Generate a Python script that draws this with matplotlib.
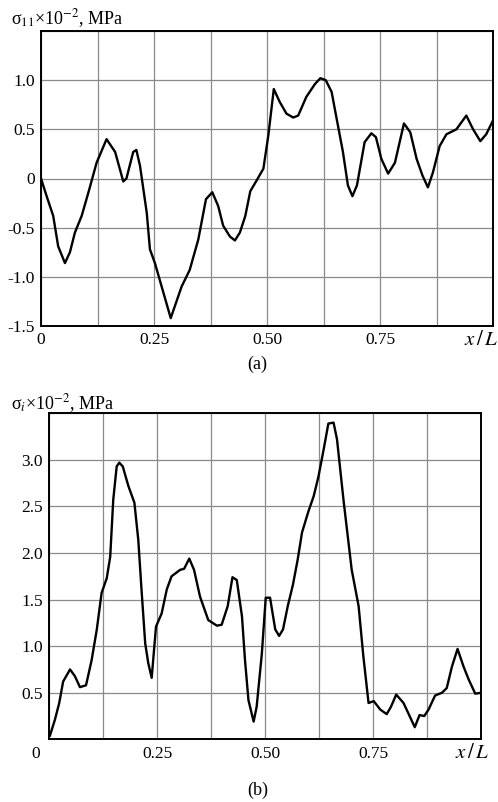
import numpy as np
import matplotlib
matplotlib.use('Agg')
import matplotlib.pyplot as plt

plt.rcParams['font.family'] = ['Liberation Serif', 'DejaVu Serif']
plt.rcParams['mathtext.fontset'] = 'stix'

# panel (a): sigma_11
x_a = [0.0, 0.0125, 0.027, 0.038, 0.053, 0.064, 0.075, 0.09, 0.105, 0.123, 0.145, 0.164,
       0.182, 0.189, 0.204, 0.211, 0.219, 0.234, 0.241, 0.252, 0.267, 0.287, 0.296, 0.311,
       0.329, 0.348, 0.365, 0.379, 0.392, 0.403, 0.418, 0.429, 0.440, 0.452, 0.463, 0.477,
       0.492, 0.503, 0.515, 0.528, 0.543, 0.558, 0.569, 0.587, 0.606, 0.618, 0.630, 0.643,
       0.654, 0.668, 0.679, 0.689, 0.699, 0.716, 0.731, 0.741, 0.753, 0.768, 0.783, 0.803,
       0.817, 0.831, 0.844, 0.856, 0.867, 0.882, 0.897, 0.919, 0.941, 0.956, 0.972, 0.985, 1.0]
y_a = [0.0, -0.18, -0.38, -0.69, -0.86, -0.75, -0.55, -0.38, -0.14, 0.16, 0.40, 0.27,
       -0.03, 0.0, 0.27, 0.29, 0.13, -0.35, -0.72, -0.86, -1.10, -1.42, -1.30, -1.10,
       -0.93, -0.62, -0.21, -0.14, -0.28, -0.48, -0.59, -0.63, -0.55, -0.38, -0.13, -0.02,
       0.10, 0.44, 0.91, 0.78, 0.66, 0.62, 0.64, 0.83, 0.96, 1.02, 1.00, 0.88,
       0.61, 0.27, -0.07, -0.18, -0.07, 0.37, 0.46, 0.42, 0.20, 0.05, 0.16, 0.56,
       0.47, 0.20, 0.03, -0.09, 0.06, 0.33, 0.45, 0.50, 0.64, 0.50, 0.38, 0.45, 0.59]

# panel (b): sigma_i
x_b = [0.0015, 0.013, 0.023, 0.032, 0.048, 0.059, 0.071, 0.085, 0.098, 0.110, 0.121, 0.133,
       0.141, 0.148, 0.156, 0.162, 0.170, 0.183, 0.197, 0.206, 0.214, 0.222, 0.229, 0.237,
       0.247, 0.260, 0.272, 0.283, 0.303, 0.312, 0.324, 0.335, 0.349, 0.368, 0.388, 0.399,
       0.413, 0.424, 0.434, 0.446, 0.453, 0.461, 0.473, 0.480, 0.492, 0.501, 0.511, 0.523,
       0.532, 0.541, 0.552, 0.564, 0.575, 0.585, 0.600, 0.612, 0.623, 0.635, 0.646, 0.658,
       0.666, 0.681, 0.700, 0.716, 0.727, 0.739, 0.751, 0.766, 0.781, 0.791, 0.803, 0.820,
       0.833, 0.846, 0.857, 0.868, 0.878, 0.893, 0.909, 0.920, 0.932, 0.945, 0.959, 0.971,
       0.986, 1.0]
y_b = [0.04, 0.21, 0.39, 0.62, 0.75, 0.68, 0.56, 0.58, 0.85, 1.18, 1.57, 1.73,
       1.96, 2.57, 2.93, 2.97, 2.93, 2.72, 2.54, 2.14, 1.57, 1.03, 0.82, 0.66,
       1.21, 1.35, 1.61, 1.75, 1.82, 1.83, 1.94, 1.82, 1.53, 1.28, 1.22, 1.23,
       1.43, 1.74, 1.71, 1.32, 0.85, 0.42, 0.19, 0.35, 0.92, 1.52, 1.52, 1.18,
       1.11, 1.18, 1.43, 1.66, 1.93, 2.22, 2.45, 2.61, 2.82, 3.11, 3.39, 3.40,
       3.22, 2.57, 1.82, 1.43, 0.89, 0.39, 0.41, 0.32, 0.27, 0.35, 0.48, 0.39,
       0.26, 0.13, 0.26, 0.25, 0.32, 0.47, 0.50, 0.55, 0.78, 0.97, 0.78, 0.64,
       0.49, 0.50]

xgrid = np.arange(0, 1.001, 0.125)
xlabels = ['0', '', '0.25', '', '0.50', '', '0.75', '', '']

fig = plt.figure(figsize=(4.98, 8.02), dpi=100)
ax1 = fig.add_axes([41/498, 1 - 326/802, 452/498, 295/802])
ax2 = fig.add_axes([49.3/498, 1 - 739.3/802, 432/498, 326/802])


def style(ax, yt, ylabs, xlabs):
    ax.set_xlim(0, 1)
    ax.set_xticks(xgrid)
    ax.set_xticklabels(xlabs, fontsize=12.5)
    ax.set_yticks(yt)
    ax.set_yticklabels(ylabs, fontsize=12.5)
    ax.tick_params(length=0, pad=4.5)
    ax.grid(True, color='#8a8a8a', lw=0.9)
    for s in ax.spines.values():
        s.set_linewidth(1.4)
        s.set_zorder(5)


ax1.plot(x_a, y_a, color='black', lw=1.7, zorder=3, solid_joinstyle='round')
ax1.set_ylim(-1.5, 1.5)
style(ax1, np.arange(-1.5, 1.51, 0.5),
      ['-1.5', '-1.0', '-0.5', '0', '0.5', '1.0', ''], xlabels)

ax2.plot(x_b, y_b, color='black', lw=1.7, zorder=3, solid_joinstyle='round')
ax2.set_ylim(0, 3.5)
style(ax2, np.arange(0, 3.51, 0.5),
      ['', '0.5', '1.0', '1.5', '2.0', '2.5', '3.0', ''], [''] + xlabels[1:])

fig.text(11/498, 1 - 24/802, r'σ$_{11}$×10$^{-2}$, MPa', fontsize=13, ha='left', va='baseline')
fig.text(11/498, 1 - 409/802, r'σ$_{i}$×10$^{-2}$, MPa', fontsize=13, ha='left', va='baseline')
fig.text(498/498, 1 - 345/802, r'$x\,/\,L$', fontsize=15, ha='right', va='baseline')
fig.text(489/498, 1 - 758/802, r'$x\,/\,L$', fontsize=15, ha='right', va='baseline')
fig.text(36/498, 1 - 758/802, '0', fontsize=12.5, ha='center', va='baseline')
fig.text(257/498, 1 - 369/802, '(a)', fontsize=13, ha='center', va='baseline')
fig.text(258/498, 1 - 795/802, '(b)', fontsize=13, ha='center', va='baseline')

fig.savefig('out.png', dpi=100)
